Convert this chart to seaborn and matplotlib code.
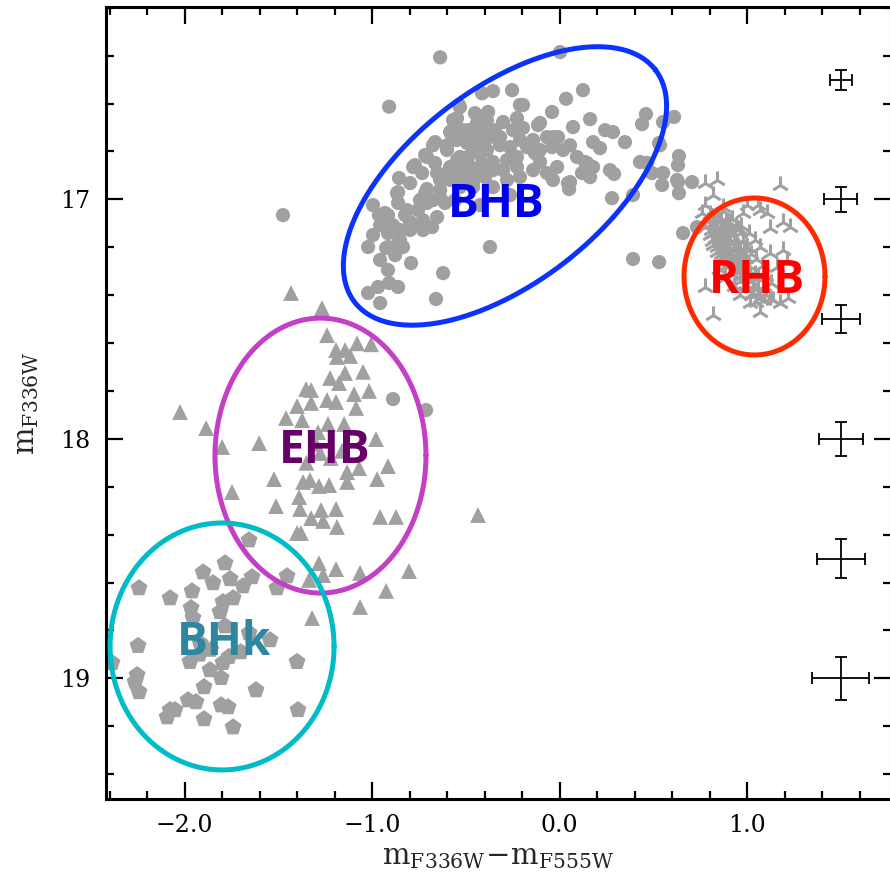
import numpy as np
import pandas as pd
import matplotlib
matplotlib.use("Agg")
import matplotlib.pyplot as plt
import seaborn as sns
from matplotlib.ticker import MultipleLocator, FuncFormatter

# colour (m_F336W - m_F555W), magnitude m_F336W
bhb_points = [
    (-0.637, 16.407), (-0.909, 16.613), (0.003, 16.385), (0.125, 16.544), (0.035, 16.580),
    (-0.253, 16.544), (-0.355, 16.548), (-0.413, 16.557), (-0.211, 16.606), (-0.040, 16.635),
    (-0.104, 16.681), (0.163, 16.665), (0.072, 16.698), (0.461, 16.644), (0.440, 16.686),
    (0.552, 16.677), (0.611, 16.656), (0.243, 16.711), (0.285, 16.719), (0.349, 16.761),
    (0.179, 16.761), (0.216, 16.786), (0.536, 16.774), (0.637, 16.819), (0.632, 16.857),
    (0.429, 16.844), (0.467, 16.848), (0.493, 16.890), (0.552, 16.890), (0.547, 16.940),
    (0.627, 16.919), (0.707, 16.928), (0.637, 16.974), (0.269, 16.878), (0.291, 16.894),
    (0.280, 16.995), (0.392, 16.982), (0.093, 16.823), (0.147, 16.848), (0.179, 16.865),
    (0.120, 16.890), (0.163, 16.907), (0.045, 16.932), (0.051, 16.957), (-0.035, 16.919),
    (-0.067, 16.890), (-0.355, 16.949), (-0.280, 16.919), (-0.211, 16.907), (-0.141, 16.878),
    (-0.371, 17.199), (0.659, 17.141), (0.392, 17.249), (0.531, 17.262), (-0.621, 17.308),
    (-0.792, 17.266), (-0.659, 17.416), (-1.021, 17.391), (-0.957, 17.433), (-0.968, 17.366),
    (-0.909, 17.349), (-0.861, 17.366), (-0.915, 17.295), (-0.957, 17.253), (-1.021, 17.199),
    (-0.995, 17.149), (-0.915, 17.199), (-0.915, 17.141), (-0.861, 17.182), (-0.835, 17.199),
    (-0.851, 17.128), (-0.797, 17.128), (-0.728, 17.128), (-0.680, 17.116), (-0.995, 17.024),
    (-0.963, 17.066), (-0.915, 17.066), (-0.861, 17.015), (-0.867, 16.974), (-0.856, 16.911),
    (-0.797, 16.932), (-0.781, 16.865), (-0.733, 16.890), (-0.707, 16.823), (-0.675, 16.774),
    (-0.664, 16.848), (-0.600, 16.890), (-0.813, 17.045), (-0.755, 17.045), (-0.728, 17.087),
    (-0.797, 17.095), (-0.653, 17.074), (-0.744, 17.003), (-0.675, 17.003), (-0.611, 17.015),
    (-0.717, 16.974), (-0.637, 16.961), (-0.600, 16.774), (-0.573, 16.711), (-0.547, 16.661),
    (-0.531, 16.615), (-0.515, 16.711), (-0.493, 16.765), (-0.461, 16.794), (-0.424, 16.752),
    (-0.387, 16.794), (-0.488, 16.823), (-0.547, 16.836), (-0.584, 16.865), (-0.531, 16.878),
    (-0.477, 16.865), (-0.413, 16.848), (-0.355, 16.844), (-0.280, 16.836), (-0.227, 16.823),
    (-0.173, 16.782), (-0.141, 16.752), (-0.067, 16.740), (-0.008, 16.740), (-0.040, 16.782),
    (-0.104, 16.794), (0.019, 16.794), (0.056, 16.774), (-0.248, 16.711), (-0.301, 16.677),
    (-0.227, 16.661), (-0.195, 16.702), (-0.344, 16.711), (-0.387, 16.669), (-0.440, 16.681),
    (-0.317, 16.774), (-0.355, 16.878), (-0.301, 16.878), (-0.531, 16.919), (-0.104, 16.844),
    (-0.227, 16.865), (-0.451, 16.640), (-0.381, 16.635), (-0.413, 16.711), (-0.317, 16.740),
    (-0.477, 16.740), (-0.568, 16.907), (-0.461, 16.928), (-0.397, 16.907), (-0.536, 16.606),
    (-0.568, 16.669), (-0.115, 16.690), (-0.488, 16.711), (-0.584, 16.719), (-0.664, 16.761),
    (-0.717, 16.815), (-0.771, 16.857), (-0.861, 16.970), (-0.931, 17.057), (-0.824, 17.066),
    (-0.888, 17.108), (-0.787, 17.108), (-0.851, 17.170), (-0.925, 17.203), (-0.653, 16.890),
    (-0.600, 16.794), (-0.547, 16.752), (-0.493, 16.723), (-0.424, 16.698), (-0.371, 16.740),
    (-0.264, 16.782), (-0.211, 16.752), (-0.131, 16.807), (-0.531, 16.823), (-0.637, 16.919),
    (-0.707, 16.957), (-0.707, 17.015), (-0.637, 16.990), (-0.584, 16.919), (-0.493, 16.865),
    (-0.424, 16.811), (-0.387, 16.865), (-0.440, 16.890), (-0.493, 16.919), (-0.547, 16.919),
    (-0.531, 16.949), (-0.461, 16.949), (-0.195, 16.606), (-0.035, 16.740), (0.136, 16.844),
    (0.152, 16.882), (-0.013, 16.865), (0.056, 16.928), (0.531, 16.765), (0.733, 17.116),
    (0.632, 16.928), (-0.957, 17.108), (-0.877, 17.233), (-0.557, 17.003), (-0.424, 17.024),
    (-0.264, 16.982), (-1.475, 17.066), (-0.888, 17.834), (-0.712, 17.880),
]

rhb_points = [
    (0.776, 16.932), (0.840, 16.919), (1.176, 16.940), (0.819, 16.982), (0.776, 17.024),
    (0.872, 17.032), (1.000, 17.024), (1.059, 17.024), (1.107, 17.057), (1.192, 17.095),
    (1.229, 17.116), (1.123, 17.120), (0.776, 17.116), (1.192, 17.212), (1.123, 17.224),
    (1.213, 17.253), (1.160, 17.283), (0.776, 17.366), (0.819, 17.483), (1.069, 17.471),
    (1.176, 17.433), (1.139, 17.420), (1.016, 17.433), (1.219, 17.412), (0.760, 17.057),
    (0.979, 17.057), (1.069, 17.045),
    (0.80, 17.06), (0.84, 17.07), (0.87, 17.05), (0.79, 17.09), (0.82, 17.10), (0.86, 17.09),
    (0.89, 17.10), (0.92, 17.08), (0.81, 17.13), (0.84, 17.12), (0.88, 17.13), (0.90, 17.12),
    (0.94, 17.11), (0.80, 17.15), (0.83, 17.16), (0.86, 17.15), (0.89, 17.16), (0.92, 17.15),
    (0.96, 17.14), (0.82, 17.19), (0.85, 17.18), (0.88, 17.19), (0.91, 17.18), (0.94, 17.19),
    (0.98, 17.17), (0.84, 17.22), (0.87, 17.21), (0.90, 17.22), (0.93, 17.21), (0.96, 17.22),
    (1.00, 17.20), (0.86, 17.25), (0.89, 17.24), (0.92, 17.25), (0.95, 17.24), (0.98, 17.25),
    (1.02, 17.23), (0.89, 17.28), (0.92, 17.27), (0.95, 17.28), (0.98, 17.27), (1.01, 17.28),
    (0.92, 17.31), (0.95, 17.30), (0.98, 17.31), (1.01, 17.30), (1.04, 17.31), (0.96, 17.34),
    (0.99, 17.33), (1.02, 17.34), (1.06, 17.33), (0.99, 17.37), (1.03, 17.36), (1.06, 17.37),
    (1.09, 17.36), (1.02, 17.40), (1.06, 17.39), (1.10, 17.40), (1.05, 17.43), (1.09, 17.42),
    (1.12, 17.41), (0.97, 17.11), (1.01, 17.14), (1.04, 17.17), (1.07, 17.20), (1.05, 17.25),
    (1.08, 17.28), (1.10, 17.32), (1.13, 17.35), (0.85, 17.29), (0.88, 17.33), (0.93, 17.36),
    (0.96, 17.40), (0.83, 17.08), (0.86, 17.11), (0.82, 17.14), (0.87, 17.17), (0.84, 17.20),
    (0.89, 17.21), (0.86, 17.23), (0.91, 17.26), (0.94, 17.29), (0.97, 17.32), (1.00, 17.36),
    (1.03, 17.39), (1.07, 17.41),
    (0.815, 17.075), (0.855, 17.085), (0.905, 17.095), (0.835, 17.105), (0.875, 17.115),
    (0.915, 17.135), (0.955, 17.125), (0.815, 17.175), (0.855, 17.165), (0.895, 17.175),
    (0.935, 17.165), (0.865, 17.195), (0.905, 17.205), (0.945, 17.205), (0.985, 17.205),
    (0.875, 17.235), (0.915, 17.235), (0.955, 17.235), (0.995, 17.245), (0.905, 17.265),
    (0.945, 17.265), (0.985, 17.285), (0.935, 17.295), (0.975, 17.295), (1.015, 17.315),
]

ehb_points = [
    (-1.432, 17.391), (-1.267, 17.454), (-1.240, 17.567), (-1.192, 17.629), (-1.144, 17.629),
    (-1.187, 17.658), (-1.117, 17.654), (-1.080, 17.601), (-1.005, 17.605), (-1.224, 17.746),
    (-1.144, 17.725), (-1.176, 17.767), (-1.048, 17.720), (-1.352, 17.792), (-1.325, 17.796),
    (-1.096, 17.813), (-1.016, 17.800), (-1.240, 17.838), (-1.192, 17.846), (-1.325, 17.850),
    (-1.400, 17.863), (-1.085, 17.871), (-1.459, 17.913), (-1.373, 17.922), (-1.235, 17.938),
    (-1.149, 17.938), (-1.288, 17.972), (-1.602, 18.018), (-0.979, 18.001), (-1.277, 18.059),
    (-0.915, 18.114), (-1.133, 18.139), (-1.069, 18.122), (-1.523, 18.168), (-1.368, 18.180),
    (-1.331, 18.172), (-1.283, 18.197), (-1.229, 18.193), (-1.133, 18.180), (-0.973, 18.168),
    (-1.747, 18.222), (-1.389, 18.243), (-1.512, 18.281), (-1.384, 18.293), (-1.272, 18.297),
    (-1.192, 18.293), (-1.325, 18.331), (-1.261, 18.343), (-0.957, 18.326), (-0.872, 18.326),
    (-1.187, 18.368), (-1.400, 18.393), (-1.379, 18.393), (-1.283, 18.519), (-1.192, 18.544),
    (-1.064, 18.560), (-0.803, 18.552), (-1.261, 18.569), (-1.336, 18.589), (-0.925, 18.635),
    (-1.064, 18.702), (-2.024, 17.888), (-1.885, 17.955), (-1.800, 18.034), (-0.435, 18.318),
    (-1.320, 18.748), (-1.30, 18.02), (-1.22, 18.08), (-1.16, 18.05), (-1.35, 18.10),
]

bhk_points = [
    (-1.656, 18.423), (-1.784, 18.519), (-1.901, 18.557), (-1.848, 18.602), (-1.757, 18.585),
    (-1.688, 18.615), (-1.640, 18.577), (-1.453, 18.573), (-1.507, 18.623), (-2.243, 18.623),
    (-2.077, 18.665), (-1.960, 18.636), (-1.741, 18.665), (-1.795, 18.681), (-1.965, 18.706),
    (-1.811, 18.723), (-1.955, 18.748), (-1.784, 18.782), (-1.656, 18.811), (-1.544, 18.840),
    (-2.248, 18.864), (-1.917, 18.853), (-1.971, 18.931), (-1.864, 18.965), (-1.763, 18.910),
    (-1.795, 18.935), (-1.400, 18.931), (-2.387, 18.935), (-2.253, 18.986), (-2.264, 19.015),
    (-2.243, 19.057), (-1.805, 18.998), (-1.896, 19.036), (-1.619, 19.049), (-1.981, 19.091),
    (-1.939, 19.099), (-1.805, 19.112), (-1.768, 19.120), (-2.077, 19.132), (-2.093, 19.162),
    (-1.395, 19.132), (-1.896, 19.170), (-1.741, 19.204), (-2.051, 19.132), (-1.86, 18.88),
    (-1.70, 18.89), (-1.92, 18.90),
]

# typical photometric errors (right column)
err_x = [1.5, 1.5, 1.5, 1.5, 1.5, 1.5]
err_mag = [16.5, 17.0, 17.5, 18.0, 18.5, 19.0]
err_col = [0.058, 0.088, 0.10, 0.116, 0.129, 0.151]
err_dmag = [0.042, 0.051, 0.06, 0.072, 0.08, 0.091]

region_names = ["BHB", "RHB", "EHB", "BHk"]
region_label_x = [-0.34, 1.053, -1.25, -1.79]
region_label_y = [17.02, 17.34, 18.05, 18.85]
region_text_colors = ["#0000ee", "#ff0000", "#660066", "#2e86a0"]
region_ring_colors = ["#0a33ff", "#ff2a00", "#c43ec6", "#00bcc6"]
# ellipse centre (data), semi axes in pixels (along, across), tilt in degrees
ring_cx = [-0.291, 1.040, -1.275, -1.800]
ring_cy = [16.944, 17.322, 18.070, 18.867]
ring_a = [190.0, 70.5, 105.5, 112.0]
ring_b = [97.0, 78.5, 137.5, 123.5]
ring_angle = [37.7, 0.0, 0.0, 0.0]


def to_frame(points, name):
    df = pd.DataFrame(points, columns=["color", "mag"])
    df["group"] = name
    return df


def draw_ring(ax, cx, cy, a, b, angle, color):
    t = np.linspace(0, 2 * np.pi, 400)
    th = np.deg2rad(angle)
    c = ax.transData.transform((cx, cy))
    px = c[0] + a * np.cos(t) * np.cos(th) - b * np.sin(t) * np.sin(th)
    py = c[1] + a * np.cos(t) * np.sin(th) + b * np.sin(t) * np.cos(th)
    pts = ax.transData.inverted().transform(np.column_stack([px, py]))
    ax.plot(pts[:, 0], pts[:, 1], color=color, lw=3.6, zorder=4)


sns.set_style("ticks")
plt.rcParams['font.family'] = ['DejaVu Serif']
plt.rcParams['mathtext.fontset'] = 'dejavuserif'

fig = plt.figure(figsize=(8.9, 8.75), dpi=100)
ax = fig.add_axes([106 / 890, 1 - 799 / 875, 785 / 890, (799 - 7.3) / 875])
ax.set_xlim(-2.419, 1.768)
ax.set_ylim(19.504, 16.198)

gray = "#a0a0a0"
bhb = to_frame(bhb_points, "BHB")
rhb = to_frame(rhb_points, "RHB")
ehb = to_frame(ehb_points, "EHB")
bhk = to_frame(bhk_points, "BHk")

sns.scatterplot(data=bhb, x="color", y="mag", marker="o", s=105, color=gray,
                edgecolor="none", ax=ax, zorder=2)
sns.scatterplot(data=rhb, x="color", y="mag", marker="2", s=170, color=gray,
                linewidth=2.2, ax=ax, zorder=2)
sns.scatterplot(data=ehb, x="color", y="mag", marker="^", s=130, color=gray,
                edgecolor="none", ax=ax, zorder=2)
sns.scatterplot(data=bhk, x="color", y="mag", marker="p", s=165, color=gray,
                edgecolor="none", ax=ax, zorder=2)

ax.errorbar(err_x, err_mag, xerr=err_col, yerr=err_dmag, fmt="none",
            ecolor="black", elinewidth=1.3, capsize=4, capthick=1.3, zorder=3)

for i in range(len(region_names)):
    draw_ring(ax, ring_cx[i], ring_cy[i], ring_a[i], ring_b[i], ring_angle[i],
              region_ring_colors[i])
    ax.text(region_label_x[i], region_label_y[i], region_names[i],
            color=region_text_colors[i], fontsize=33, fontweight="bold",
            family=["Open Sans", "DejaVu Sans"], ha="center", va="center", zorder=5)

ax.xaxis.set_major_locator(MultipleLocator(1.0))
ax.xaxis.set_minor_locator(MultipleLocator(0.2))
ax.yaxis.set_major_locator(MultipleLocator(1.0))
ax.yaxis.set_minor_locator(MultipleLocator(0.2))
ax.xaxis.set_major_formatter(FuncFormatter(lambda v, p: ("%.1f" % v).replace("-", "\u2212")))
ax.yaxis.set_major_formatter(FuncFormatter(lambda v, p: "%d" % round(v)))
ax.tick_params(which="both", direction="in", top=True, right=True, width=1.6,
               colors="black", labelsize=17)
ax.tick_params(which="major", length=12, pad=11)
ax.tick_params(which="minor", length=6)
for s in ax.spines.values():
    s.set_linewidth(2.2)
    s.set_color("black")

ax.set_xlabel(r"$\mathrm{m_{F336W}\!-\!m_{F555W}}$", fontsize=21, labelpad=4)
ax.set_ylabel(r"$\mathrm{m_{F336W}}$", fontsize=21, labelpad=14)

fig.savefig("out.png", dpi=100)
